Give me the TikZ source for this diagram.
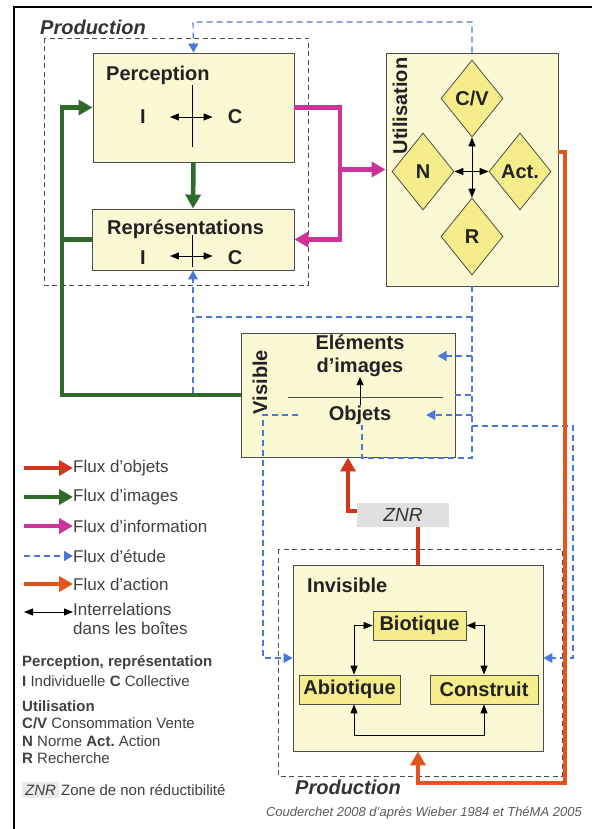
\documentclass[tikz,border=0pt]{standalone}
\usepackage{fontspec}
\setmainfont{Liberation Sans}
\usepackage{tikz}
\usetikzlibrary{shapes.geometric, arrows.meta, positioning}
\definecolor{fondboite}{HTML}{FBF8D4}
\definecolor{jaune}{HTML}{F5EC8C}
\definecolor{vert}{HTML}{2F6A2C}
\definecolor{magenta}{HTML}{CC3399}
\definecolor{rouge}{HTML}{D2361E}
\definecolor{orange}{HTML}{E2561B}
\definecolor{bleu}{HTML}{4A78D8}
\definecolor{encre}{HTML}{222222}
\frenchspacing

\tikzset{
	boite/.style={draw=black!70, fill=fondboite, line width=0.9pt, inner sep=0pt},
	losange/.style={diamond, draw=black!70, fill=jaune, line width=0.8pt, minimum width=62pt, minimum height=77pt, inner sep=0pt, text=encre, font=\bfseries\fontsize{20}{24}\selectfont},
	petite/.style={draw=black!70, fill=jaune, line width=0.8pt, inner sep=0pt, minimum height=29pt, text=encre, font=\bfseries\fontsize{20}{24}\selectfont},
	titre/.style={inner sep=0pt, text=encre, font=\bfseries\fontsize{20}{23}\selectfont},
	legende/.style={inner sep=0pt, anchor=west, text=black!75, font=\fontsize{17}{19}\selectfont},
	note/.style={inner sep=0pt, anchor=west, text=black!75, font=\fontsize{15}{18}\selectfont},
	zone/.style={draw=black!70, dash pattern=on 5pt off 3.5pt, line width=0.9pt},
	fobj/.style={draw=rouge, line width=4.5pt, -{Triangle[length=14pt,width=15pt]}},
	fimg/.style={draw=vert, line width=4.5pt, -{Triangle[length=14pt,width=15pt]}},
	finfo/.style={draw=magenta, line width=4.5pt, -{Triangle[length=14pt,width=15pt]}},
	fact/.style={draw=orange, line width=4pt, -{Triangle[length=14pt,width=15pt]}},
	fetude/.style={draw=bleu, dash pattern=on 6pt off 4pt, line width=1.1pt, -{Triangle[length=9pt,width=10pt]}},
	inter/.style={draw=black, line width=0.9pt, {Triangle[length=9pt,width=7pt]}-{Triangle[length=9pt,width=7pt]}},
}

\begin{document}
\begin{tikzpicture}[x=1pt, y=-1pt]
	\useasboundingbox (0,0) rectangle (592,829);
	\draw[line width=1.6pt] (14,829) -- (14,7) -- (592,7);

	% 上部:Production
	\draw[zone] (44,38) rectangle (308,285);
	\node[anchor=west, inner sep=0pt, text=black!80, font=\bfseries\itshape\fontsize{20}{24}\selectfont] (prodh) at (40,27) {Production};
	\node[boite, minimum width=201pt, minimum height=109pt] (perc) at (193.5,107.5) {};
	\node[titre, anchor=west] (lperc) at (106,75) {Perception};
	\node[titre] (pi) at (143,117) {I};
	\node[titre] (pc) at (235,117) {C};
	\draw[black] (192,85) -- (192,147);
	\draw[inter, shorten <=24pt, shorten >=15pt] (pi.east) -- (pc.west);

	\node[boite, minimum width=202pt, minimum height=61pt] (rep) at (193,239.5) {};
	\node[titre, anchor=west] (lrep) at (107,229) {Représentations};
	\node[titre] (ri) at (143,258) {I};
	\node[titre] (rc) at (235,258) {C};
	\draw[black] (192,235) -- (192,267);
	\draw[inter, shorten <=24pt, shorten >=15pt] ([yshift=2pt]ri.east) -- ([yshift=2pt]rc.west);

	% Utilisation
	\node[boite, minimum width=172pt, minimum height=233pt] (util) at (472,169.5) {};
	\node[titre, rotate=90] (lutil) at (400,106) {Utilisation};
	\node[losange] (cv) at (472,98.5) {C/V};
	\node[losange] (n) at (423,171.5) {N};
	\node[losange] (act) at (520,171.5) {Act.};
	\node[losange] (r) at (472,236.5) {R};
	\draw[inter] (cv.south) -- (r.north);
	\draw[inter] (n.east) -- (act.west);

	% Visible
	\node[boite, minimum width=214pt, minimum height=124pt] (vis) at (348,395) {};
	\node[titre, rotate=90] (lvis) at (260,382) {Visible};
	\node[titre, align=center] (elem) at (360,356) {Eléments\\d'images};
	\node[titre] (objets) at (360,415) {Objets};
	\draw[black!70, line width=0.9pt] (288,397) -- (443,397);
	\draw[black, line width=0.9pt, -{Triangle[length=8pt,width=7pt]}] (objets.north) -- (elem.south);

	% Invisible
	\draw[zone] (278,549) rectangle (562,776);
	\node[anchor=west, inner sep=0pt, text=black!80, font=\bfseries\itshape\fontsize{20}{24}\selectfont] (prodb) at (295,787) {Production};
	\node[boite, minimum width=250pt, minimum height=186pt] (inv) at (418,658) {};
	\node[titre, anchor=west] (linv) at (307,585) {Invisible};
	\node[petite, minimum width=93pt] (bio) at (419.5,625.5) {Biotique};
	\node[petite, minimum width=101pt] (abio) at (349.5,689.5) {Abiotique};
	\node[petite, minimum width=108pt] (cons) at (484,689.5) {Construit};
	\draw[inter] (bio.west) -| ([xshift=4.5pt]abio.north);
	\draw[inter] (bio.east) -| (cons.north);
	\draw[inter] ([xshift=4.5pt]abio.south) -- ++(0,31) -| (cons.south);

	\node[fill=black!12, minimum width=92pt, minimum height=24pt, inner sep=0pt, text=black!80, font=\itshape\fontsize{19}{22}\selectfont] (znr) at (403,515) {ZNR};

	% Flux d'étude
	\coordinate (bt) at (193,22);
	\coordinate (bh) at (193,317);
	\coordinate (bb) at (472,458);
	\coordinate (br) at (472,426);
	\coordinate (bx) at (573,658);
	\coordinate (bl) at (298,415);
	\coordinate (by) at (263,658);
	\draw[fetude] (util.north) |- (bt) -- (perc.north);
	\draw[fetude] (vis.west) -| (rep.south);
	\draw[fetude, -] (util.south |- bh) -- (bh);
	\draw[fetude, -] (util.south) -- (bb) -| ([xshift=2pt]objets.south);
	\draw[fetude] (util.south |- elem.east) -- ([xshift=33pt]elem.east);
	\draw[fetude] (util.south |- objets.east) -- ([xshift=35pt]objets.east);
	\draw[fetude, -] (vis.east) -- (util.south |- vis.east);
	\draw[fetude] (br) -| (bx) -- (inv.east);
	\draw[fetude] (bl) -| (by) -- (inv.west);

	% Flux d'images
	\coordinate (gh) at (62,107.5);
	\coordinate (gb) at (62,239.5);
	\draw[fimg] (vis.west) -| (gh) -- (perc.west);
	\draw[fimg, -] (gb) -- (rep.west);
	\draw[fimg] (perc.south) -- (rep.north);

	% Flux d'information
	\coordinate (mg) at (340,239.5);
	\coordinate (mj) at (340,169.5);
	\draw[finfo] (perc.east) -| (mg) -- (rep.east);
	\draw[finfo] (mj) -- (util.west);

	% Flux d'objets et d'action
	\draw[fobj] ([yshift=4pt]znr.west) -| (vis.south);
	\draw[fobj, -] (inv.north) -- (inv.north |- znr.south);
	\coordinate (oa) at (565,152);
	\coordinate (ob) at (418,783);
	\draw[fact] (util.east |- oa) -- (oa) |- (ob) -- (inv.south);

	% Légende
	\node[legende] (lobj) at (73,468) {Flux d'objets};
	\draw[fobj] ([xshift=-49pt]lobj.west) -- (lobj.west);
	\node[legende] (limg) at (73,497) {Flux d'images};
	\draw[fimg] ([xshift=-49pt]limg.west) -- (limg.west);
	\node[legende] (linfo) at (73,526) {Flux d'information};
	\draw[finfo] ([xshift=-49pt]linfo.west) -- (linfo.west);
	\node[legende] (letu) at (73,556) {Flux d'étude};
	\draw[fetude] ([xshift=-49pt]letu.west) -- (letu.west);
	\node[legende] (lact) at (73,584) {Flux d'action};
	\draw[fact] ([xshift=-49pt]lact.west) -- (lact.west);
	\node[legende, align=left] (lint) at (73,619) {Interrelations\\dans les boîtes};
	\draw[inter] ([xshift=-49pt,yshift=7pt]lint.west) -- ([yshift=7pt]lint.west);

	\node[note] (n1) at (22,663) {\bfseries Perception, représentation};
	\node[note] (n2) at (22,681) {\textbf{I} Individuelle \textbf{C} Collective};
	\node[note] (n3) at (22,706) {\bfseries Utilisation};
	\node[note] (n4) at (22,723) {\textbf{C/V} Consommation Vente};
	\node[note] (n5) at (22,741) {\textbf{N} Norme \textbf{Act.}\ Action};
	\node[note] (n6) at (22,758) {\textbf{R} Recherche};
	\node[note] (n7) at (22,790) {\colorbox{black!8}{\itshape ZNR}\hspace{-2pt} Zone de non réductibilité};

	\node[anchor=east, inner sep=0pt, text=black!65, font=\itshape\fontsize{13}{15}\selectfont] (src) at (582,813) {Couderchet 2008 d'après Wieber 1984 et ThéMA 2005};
\end{tikzpicture}
\end{document}
